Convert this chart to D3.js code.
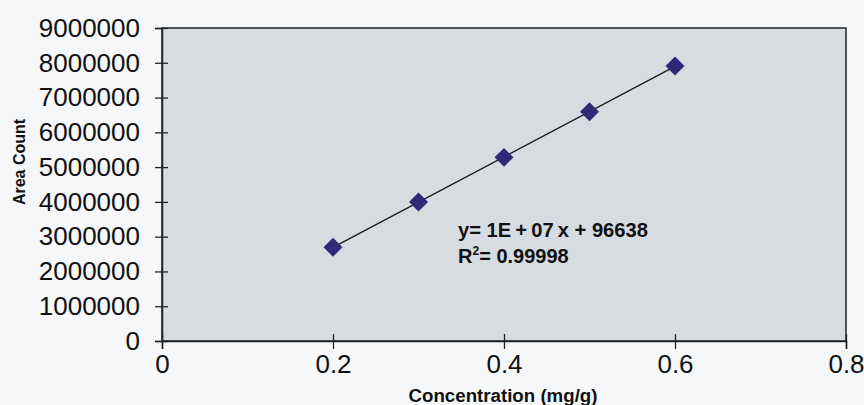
<!DOCTYPE html>
<html>
<head>
<meta charset="utf-8">
<script src="https://cdn.jsdelivr.net/npm/d3@7"></script>
<style>
  html, body { margin: 0; padding: 0; background: #f6f7f9; }
  svg { display: block; }
  .tick text { font-family: "Liberation Sans", Arial, sans-serif; font-size: 26px; fill: #111; }
  .title { font-family: "Liberation Sans", Arial, sans-serif; font-weight: bold; fill: #111; }
</style>
</head>
<body>
<div id="chart"></div>
<script>
// calibration data
const concentration = [0.2, 0.3, 0.4, 0.5, 0.6];
const areaCount = [2695000, 3998000, 5280000, 6593000, 7907000];
const xTicks = [0, 0.2, 0.4, 0.6, 0.8];
const yTicks = [0, 1000000, 2000000, 3000000, 4000000, 5000000, 6000000, 7000000, 8000000, 9000000];
const equationLines = ['y= 1E\u2009+\u200907\u2009x + 96638', 'R²= 0.99998'];

const width = 864, height = 405;
const margin = {top: 28, right: 18, bottom: 64, left: 162};
const plotW = width - margin.left - margin.right;
const plotH = height - margin.top - margin.bottom;

const svg = d3.select('#chart').append('svg')
  .attr('width', width)
  .attr('height', height);

const g = svg.append('g')
  .attr('transform', 'translate(' + margin.left + ',' + margin.top + ')');

const x = d3.scaleLinear().domain([0, 0.8]).range([0, plotW]);
const y = d3.scaleLinear().domain([0, 9000000]).range([plotH, 0]);

// plot area
g.append('rect')
  .attr('width', plotW)
  .attr('height', plotH)
  .attr('fill', '#d7dce0')
  .attr('stroke', '#222')
  .attr('stroke-width', 1.5);

// axes with cross ticks
const yAxis = g.append('g')
  .call(d3.axisLeft(y).tickValues(yTicks).tickFormat(d3.format('d')).tickSize(7).tickPadding(15));
yAxis.selectAll('.tick line').attr('x2', -7).attr('x1', 6);

const xAxis = g.append('g')
  .attr('transform', 'translate(0,' + plotH + ')')
  .call(d3.axisBottom(x).tickValues(xTicks).tickFormat(v => v === 0 ? '0' : v.toString()).tickSize(8).tickPadding(6));
xAxis.selectAll('.tick line').attr('y1', -7);

[yAxis, xAxis].forEach(a => {
  a.select('.domain').attr('stroke', '#222').attr('stroke-width', 1.5);
  a.selectAll('.tick line').attr('stroke', '#222').attr('stroke-width', 1.3);
  a.selectAll('.tick text').attr('fill', '#111');
});

// least squares trendline
const mx = d3.mean(concentration), my = d3.mean(areaCount);
const slope = d3.sum(concentration, (c, i) => (c - mx) * (areaCount[i] - my)) /
  d3.sum(concentration, c => (c - mx) * (c - mx));
const intercept = my - slope * mx;
const xExt = d3.extent(concentration);

g.append('line')
  .attr('x1', x(xExt[0])).attr('y1', y(slope * xExt[0] + intercept))
  .attr('x2', x(xExt[1])).attr('y2', y(slope * xExt[1] + intercept))
  .attr('stroke', '#1a1a1a')
  .attr('stroke-width', 1.3);

// markers
g.selectAll('.pt')
  .data(concentration)
  .enter().append('path')
  .attr('class', 'pt')
  .attr('d', d3.symbol().type(d3.symbolDiamond2).size(230))
  .attr('transform', (d, i) => 'translate(' + x(d) + ',' + y(areaCount[i]) + ')')
  .attr('fill', '#2e2a78');

// equation
g.append('text')
  .attr('class', 'title')
  .attr('x', 296)
  .attr('y', 209)
  .attr('textLength', 190)
  .attr('lengthAdjust', 'spacingAndGlyphs')
  .style('font-size', '20px')
  .text(equationLines[0]);

const r2 = g.append('text')
  .attr('class', 'title')
  .attr('x', 296)
  .attr('y', 235)
  .style('font-size', '20px');
r2.append('tspan').text('R');
r2.append('tspan').attr('dy', -8).style('font-size', '12px').text('2');
r2.append('tspan').attr('dy', 8).text(equationLines[1].slice(2));

// axis titles
svg.append('text')
  .attr('class', 'title')
  .attr('x', 503)
  .attr('y', 402)
  .attr('text-anchor', 'middle')
  .attr('textLength', 189)
  .attr('lengthAdjust', 'spacingAndGlyphs')
  .style('font-size', '18px')
  .text('Concentration (mg/g)');

svg.append('text')
  .attr('class', 'title')
  .attr('transform', 'translate(25,162) rotate(-90)')
  .attr('text-anchor', 'middle')
  .style('font-size', '16px')
  .text('Area Count');
</script>
</body>
</html>
